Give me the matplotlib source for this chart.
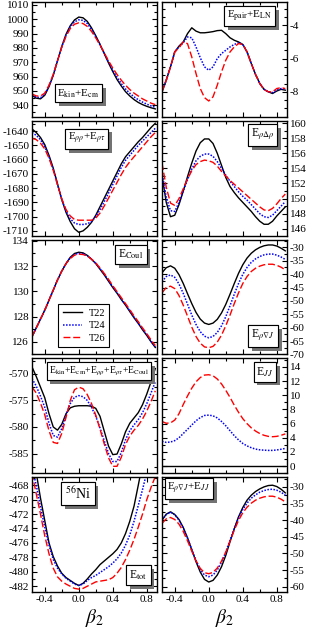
import numpy as np
import matplotlib
matplotlib.use("Agg")
import matplotlib.pyplot as plt
import matplotlib.patheffects as pe
from matplotlib.ticker import MultipleLocator, AutoMinorLocator

plt.rcParams['font.family'] = ['Liberation Serif', 'DejaVu Serif']
plt.rcParams['mathtext.fontset'] = 'stix'

# deformation grid (beta_2)
beta = [-0.55, -0.5, -0.45, -0.4, -0.35, -0.3, -0.25, -0.2, -0.15, -0.1, -0.05, 0.0,
        0.05, 0.1, 0.15, 0.2, 0.25, 0.3, 0.35, 0.4, 0.45, 0.5, 0.55, 0.6, 0.65, 0.7,
        0.75, 0.8, 0.85, 0.9]
labels = ['T22', 'T24', 'T26']

# E_kin + E_cm
ekin_t22 = [947, 945, 944.5, 947, 953, 961, 971, 981, 989.5, 995.5, 999.5, 1001.5, 1001, 998.5, 994,
            988.5, 982.5, 976, 969.5, 963.5, 958, 953.5, 949.5, 946.5, 944, 942, 940.5, 939.3, 938.3, 937.5]
ekin_t24 = [947.5, 945.7, 945.3, 947.6, 953.4, 961.2, 971, 980.8, 989, 994.7, 998.2, 999.6, 999.2, 997, 992.8,
            987.7, 982.2, 976.2, 970.2, 964.6, 959.5, 955.2, 951.4, 948.4, 945.9, 943.9, 942.2, 940.8, 939.6, 938.6]
ekin_t26 = [948, 946.5, 946.5, 948.5, 954, 961.5, 971, 980.5, 988, 993.5, 996.5, 997.5, 997, 995, 991.5,
            987, 982, 976.5, 971, 966, 961.5, 957.5, 954, 951, 948.5, 946.5, 944.5, 943, 941.5, 940.5]

# E_pair + E_LN
epair_t22 = [-8.0, -7.3, -6.5, -5.6, -5.25, -5.0, -4.5, -4.15, -4.35, -4.45, -4.45, -4.42, -4.38, -4.32, -4.3,
             -4.5, -4.75, -4.9, -5.0, -5.15, -5.6, -6.3, -6.95, -7.5, -7.85, -8.0, -8.1, -7.95, -7.85, -7.9]
epair_t24 = [-8.0, -7.3, -6.5, -5.6, -5.3, -5.05, -4.7, -4.75, -5.3, -5.95, -6.5, -6.7, -6.5, -6.0, -5.7,
             -5.5, -5.3, -5.15, -5.05, -5.15, -5.6, -6.3, -6.95, -7.5, -7.85, -8.0, -8.05, -7.9, -7.8, -7.85]
epair_t26 = [-8.0, -7.3, -6.5, -5.6, -5.35, -5.0, -5.1, -5.9, -6.9, -7.8, -8.35, -8.55, -8.3, -7.6, -6.8,
             -6.1, -5.6, -5.3, -5.1, -5.15, -5.6, -6.3, -6.95, -7.5, -7.85, -8.0, -8.0, -7.8, -7.75, -7.8]

# E_rhorho + E_rhotau
erho_t22 = [-1638.5, -1641, -1644.5, -1649.5, -1657, -1666, -1677, -1688, -1697, -1703.5, -1708.5, -1711,
            -1710, -1707.5, -1704, -1699, -1693, -1687, -1681, -1675, -1669, -1663, -1658, -1654.5, -1651,
            -1647.5, -1644.5, -1641, -1637.5, -1634.5]
erho_t24 = [-1641, -1643, -1646, -1651, -1658, -1667, -1677.5, -1688, -1696, -1701.5, -1704.5, -1705.5,
            -1705.5, -1705, -1703.5, -1700, -1695, -1689.5, -1683.5, -1677.5, -1671.5, -1665.5, -1660.5,
            -1657, -1653.5, -1650, -1647, -1644, -1641, -1638]
erho_t26 = [-1645, -1646, -1648.5, -1652.5, -1659, -1667.5, -1677.5, -1687.5, -1695, -1699.5, -1702, -1702.5,
            -1702.5, -1702.5, -1702.5, -1701, -1697.5, -1692.5, -1687, -1681.5, -1676, -1670.5, -1665.5,
            -1661.5, -1658, -1654.5, -1651, -1647.5, -1644, -1641]

# E_rho Delta rho
edrho_t22 = [153, 149.5, 147.6, 147.8, 149.2, 151.0, 152.9, 154.7, 156.3, 157.4, 157.9, 157.9, 157.3, 156.0,
             154.4, 152.8, 151.6, 150.8, 150.1, 149.5, 148.9, 148.3, 147.6, 147.0, 146.6, 146.6, 147.0,
             147.7, 148.3, 148.9]
edrho_t24 = [153.5, 150.2, 148.4, 148.3, 149.5, 151.0, 152.5, 153.9, 155.0, 155.6, 155.9, 155.9, 155.6, 154.9,
             154.0, 153.1, 152.3, 151.6, 150.9, 150.3, 149.8, 149.2, 148.6, 148.0, 147.6, 147.5, 147.8,
             148.4, 149.0, 149.6]
edrho_t26 = [154.7, 151.5, 149.4, 149.1, 150.0, 151.3, 152.6, 153.7, 154.5, 154.9, 155.1, 155.0, 154.8, 154.3,
             153.6, 153.0, 152.4, 151.9, 151.4, 150.9, 150.4, 149.9, 149.4, 148.9, 148.5, 148.4, 148.7,
             149.3, 150.0, 150.6]

# E_Coul
ecoul_t22 = [126.4, 127.1, 127.8, 128.5, 129.3, 130.1, 130.9, 131.6, 132.2, 132.7, 133.0, 133.1, 133.05,
             132.85, 132.55, 132.2, 131.75, 131.3, 130.8, 130.3, 129.85, 129.35, 128.9, 128.4, 127.9,
             127.45, 126.95, 126.5, 126.0, 125.55]
ecoul_t24 = [126.4, 127.1, 127.8, 128.5, 129.3, 130.1, 130.9, 131.6, 132.2, 132.65, 132.93, 133.02, 132.98,
             132.82, 132.55, 132.22, 131.8, 131.35, 130.86, 130.36, 129.9, 129.4, 128.95, 128.45, 127.95,
             127.5, 127.0, 126.55, 126.05, 125.6]
ecoul_t26 = [126.4, 127.1, 127.8, 128.5, 129.3, 130.1, 130.9, 131.6, 132.2, 132.6, 132.87, 132.95, 132.92,
             132.8, 132.55, 132.25, 131.85, 131.42, 130.95, 130.45, 129.98, 129.5, 129.03, 128.55, 128.05,
             127.6, 127.1, 126.65, 126.15, 125.7]

# E_rho nabla J
ednj_t22 = [-39.5, -37.6, -36.9, -37.8, -40.2, -43.5, -47.3, -51.0, -54.3, -56.8, -58.3, -58.8, -58.3, -56.9,
            -54.5, -51.3, -47.5, -43.5, -39.7, -36.5, -34.0, -32.2, -30.9, -30.0, -29.4, -29.1, -29.1, -29.5,
            -30.3, -31.3]
ednj_t24 = [-42.8, -40.9, -40.3, -41.2, -43.7, -47.2, -51.2, -55.3, -58.8, -61.5, -63.2, -63.8, -63.3, -61.8,
            -59.3, -55.9, -51.8, -47.5, -43.5, -40.1, -37.5, -35.6, -34.3, -33.4, -32.8, -32.5, -32.5, -32.9,
            -33.6, -34.5]
ednj_t26 = [-47.0, -45.0, -44.5, -45.4, -48.0, -51.6, -55.7, -59.8, -63.3, -65.8, -67.2, -67.5, -67.0, -65.4,
            -62.8, -59.3, -55.3, -51.0, -47.0, -43.5, -40.9, -39.0, -37.8, -37.0, -36.5, -36.3, -36.3, -36.7,
            -37.4, -38.4]

# E_kin + E_cm + E_rhorho + E_rhotau + E_Coul
esum_t22 = [-568.7, -570.5, -572.5, -574.5, -577.5, -580.0, -580.6, -579.5, -577.5, -576.4, -576.1, -576.0,
            -576.0, -576.0, -576.1, -576.5, -578.0, -580.8, -583.6, -585.2, -585.1, -583.2, -580.9, -579.3,
            -578.3, -577.3, -575.8, -573.8, -571.5, -569.0]
esum_t24 = [-570.9, -572.3, -574.2, -576.3, -579.3, -581.6, -581.9, -580.3, -577.8, -575.6, -574.4, -574.1,
            -574.3, -575.0, -576.3, -578.0, -580.2, -582.6, -585.0, -586.5, -586.5, -584.8, -582.4, -580.7,
            -579.6, -578.6, -577.3, -575.6, -573.6, -571.5]
esum_t26 = [-572.5, -573.6, -575.5, -577.7, -580.7, -582.9, -583.1, -581.2, -578.2, -575.0, -573.0, -572.5,
            -572.8, -573.9, -575.6, -577.8, -580.4, -583.2, -585.8, -587.4, -587.4, -585.7, -583.3, -581.7,
            -580.6, -579.7, -578.5, -577.0, -575.2, -573.2]

# E_JJ
ejj_t22 = [0.0] * 30
ejj_t24 = [3.5, 3.35, 3.4, 3.6, 4.0, 4.6, 5.2, 5.8, 6.4, 6.85, 7.15, 7.2, 7.1, 6.8, 6.3, 5.7, 5.0, 4.3, 3.7,
           3.2, 2.85, 2.6, 2.4, 2.3, 2.25, 2.22, 2.22, 2.28, 2.38, 2.5]
ejj_t26 = [6.3, 6.05, 6.1, 6.5, 7.4, 8.7, 9.9, 11.0, 11.9, 12.5, 12.85, 12.9, 12.75, 12.3, 11.6, 10.7, 9.7,
           8.6, 7.6, 6.7, 6.0, 5.4, 4.95, 4.6, 4.35, 4.2, 4.15, 4.2, 4.35, 4.55]

# E_tot
etot_t22 = [-462.5, -466.3, -469.8, -472.9, -476.0, -477.9, -479.2, -480.2, -480.8, -481.2, -481.6, -481.9,
            -481.6, -481.0, -480.3, -479.7, -479.0, -478.5, -478.0, -477.5, -476.9, -476.0, -474.7, -473.0,
            -470.9, -468.0, -465.0, np.nan, np.nan, np.nan]
etot_t24 = [-465.5, -468.0, -471.0, -473.8, -476.3, -478.3, -479.5, -480.3, -480.9, -481.3, -481.7, -481.9,
            -481.7, -481.2, -480.8, -480.5, -480.1, -479.7, -479.3, -478.8, -478.2, -477.4, -476.3, -474.9,
            -473.0, -470.8, -468.6, -466.2, -463.5, np.nan]
etot_t26 = [-466.3, -469.2, -472.0, -475.0, -477.5, -479.5, -480.7, -481.3, -481.7, -482.0, -482.3, -482.4,
            -482.3, -482.0, -481.7, -481.4, -481.3, -481.2, -481.1, -480.8, -480.2, -479.4, -478.3, -477.0,
            -475.5, -473.8, -472.0, -470.0, -468.3, -466.8]

# E_rho nabla J + E_JJ
eso_t22 = [-40.0, -38.2, -37.5, -38.3, -39.8, -42.2, -45.3, -48.9, -52.5, -55.6, -57.8, -58.6, -58.1, -56.5,
           -54.0, -50.6, -46.5, -42.6, -39.0, -36.2, -34.0, -32.5, -31.4, -30.6, -30.0, -29.6, -29.5, -29.9,
           -30.7, -31.8]
eso_t24 = [-40.0, -38.3, -37.6, -38.4, -40.0, -42.4, -45.4, -48.8, -52.1, -54.8, -56.5, -57.0, -56.5, -55.0,
           -52.6, -49.6, -46.0, -42.5, -39.3, -36.8, -34.9, -33.4, -32.4, -31.6, -31.1, -30.8, -30.7, -31.0,
           -31.6, -32.5]
eso_t26 = [-41.0, -39.6, -39.2, -39.8, -41.2, -43.4, -46.2, -49.3, -52.2, -54.5, -55.8, -56.1, -55.7, -54.4,
           -52.3, -49.6, -46.3, -43.0, -40.1, -37.8, -36.1, -34.9, -34.0, -33.4, -33.0, -32.8, -32.8, -33.1,
           -33.7, -34.5]

styles = [dict(color='black', ls='-', lw=1.0),
          dict(color='blue', ls=(0, (1, 1)), lw=1.1),
          dict(color='red', ls=(0, (5, 2)), lw=1.0)]


def boxtext(ax, x, y, s, size=8):
    t = ax.text(x, y, s, transform=ax.transAxes, ha='center', va='center', fontsize=size,
                bbox=dict(boxstyle='square,pad=0.25', fc='white', ec='black', lw=0.8), zorder=5)
    t.get_bbox_patch().set_path_effects([
        pe.withSimplePatchShadow(offset=(2.8, -2.8), shadow_rgbFace='0.45', alpha=1.0),
        pe.Normal()])
    return t


fig, axes = plt.subplots(5, 2, figsize=(3.1, 6.28), dpi=100)
fig.subplots_adjust(left=0.1032, right=0.9258, top=0.9968, bottom=0.0573,
                    wspace=0.04, hspace=0.035)

panels = [
    (ekin_t22, ekin_t24, ekin_t26, (932, 1012), 10, 'E$_{\\rm kin}$+E$_{\\rm cm}$', (0.372, 0.204), 8),
    (epair_t22, epair_t24, epair_t26, (-9.5, -2.6), 2, 'E$_{\\rm pair}$+E$_{\\rm LN}$', (0.70, 0.878), 8),
    (erho_t22, erho_t24, erho_t26, (-1713.3, -1632.8), 10, 'E$_{\\rho\\rho}$+E$_{\\rho\\tau}$', (0.436, 0.843), 8),
    (edrho_t22, edrho_t24, edrho_t26, (145.1, 160.3), 2, 'E$_{\\rho\\Delta\\rho}$', (0.804, 0.874), 8.5),
    (ecoul_t22, ecoul_t24, ecoul_t26, (125.0, 134.1), 2, 'E$_{\\rm Coul}$', (0.792, 0.87), 8.5),
    (ednj_t22, ednj_t24, ednj_t26, (-70, -27.1), 5, 'E$_{\\rho\\nabla J}$', (0.808, 0.16), 8.5),
    (esum_t22, esum_t24, esum_t26, (-588.7, -567.1), 5,
     'E$_{\\rm kin}$+E$_{\\rm cm}$+E$_{\\rho\\rho}$+E$_{\\rho\\tau}$+E$_{\\rm Coul}$', (0.536, 0.887), 7),
    (ejj_t22, ejj_t24, ejj_t26, (-1.0, 15.2), 2, 'E$_{JJ}$', (0.824, 0.883), 8.5),
    (etot_t22, etot_t24, etot_t26, (-482.8, -466.9), 2, 'E$_{\\rm tot}$', (0.852, 0.148), 8.5),
    (eso_t22, eso_t24, eso_t26, (-61.6, -27.1), 5, 'E$_{\\rho\\nabla J}$+E$_{JJ}$', (0.216, 0.9), 8),
]

for i, (ax, p) in enumerate(zip(axes.flat, panels)):
    y22, y24, y26, ylim, major, name, pos, fs = p
    for ys, st, lab in zip((y22, y24, y26), styles, labels):
        ax.plot(beta, ys, label=lab, **st)
    ax.set_xlim(-0.55, 0.92)
    ax.set_ylim(*ylim)
    ax.xaxis.set_major_locator(MultipleLocator(0.4))
    ax.xaxis.set_minor_locator(MultipleLocator(0.2))
    ax.yaxis.set_major_locator(MultipleLocator(major))
    ax.yaxis.set_minor_locator(AutoMinorLocator(4 if i == 1 else 2))
    ax.tick_params(which='both', direction='in', top=True, bottom=True, left=True, right=True,
                   labelsize=8, pad=2, width=0.8)
    ax.tick_params(which='major', length=3.5)
    ax.tick_params(which='minor', length=2)
    if i % 2 == 1:
        ax.tick_params(labelleft=False, labelright=True)
    if i < 8:
        ax.tick_params(labelbottom=False)
    else:
        ax.set_xlabel('$\\beta_2$', fontsize=14, labelpad=2)
        ax.set_xticks([-0.4, 0.0, 0.4, 0.8])
        ax.set_xticklabels(['-0.4', '0.0', '0.4', '0.8'])
    for sp in ax.spines.values():
        sp.set_linewidth(1.0)
    boxtext(ax, pos[0], pos[1], name, size=fs)
    # minus signs as plain hyphens like the original
    ax.yaxis.set_major_formatter(plt.FuncFormatter(lambda v, _: ('%g' % v)))

boxtext(axes[4, 0], 0.368, 0.857, '$^{56}$Ni', size=10)

leg = axes[2, 0].legend(loc='lower left', bbox_to_anchor=(0.17, 0.02), fontsize=7.5, frameon=True,
                        fancybox=False, framealpha=1, edgecolor='black', handlelength=1.9,
                        borderpad=0.4, labelspacing=0.3, handletextpad=0.6)
leg.get_frame().set_linewidth(0.8)

plt.savefig('out.png', dpi=100)
